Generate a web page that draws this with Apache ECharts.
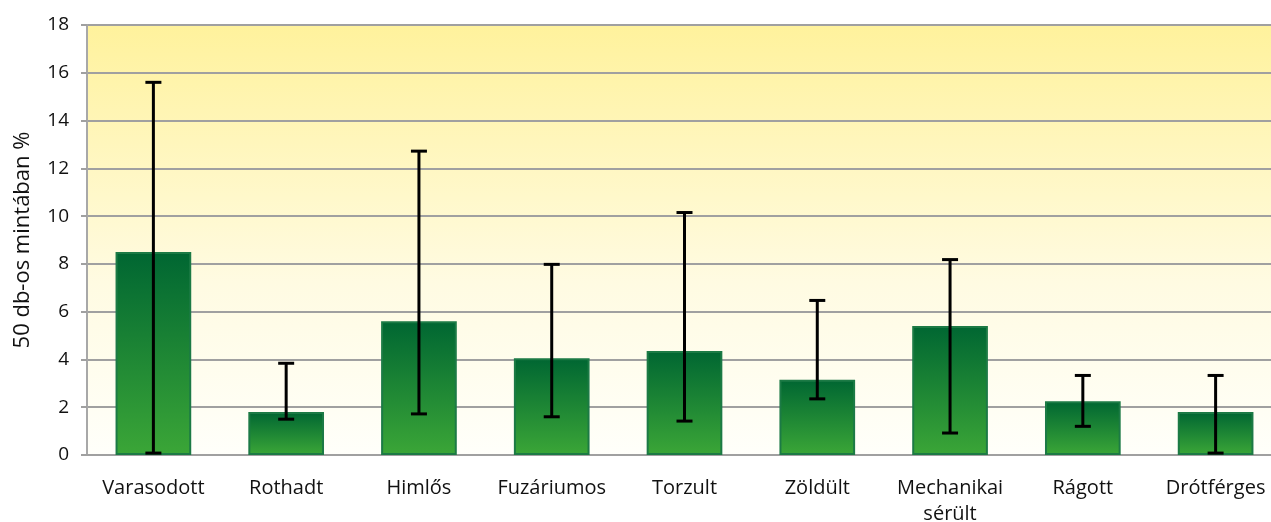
<!DOCTYPE html>
<html>
<head>
<meta charset="utf-8">
<script src="https://cdn.jsdelivr.net/npm/echarts@6/dist/echarts.min.js"></script>
<style>
  html, body { margin: 0; padding: 0; background: #fff; }
  #chart { width: 1271px; height: 522px; }
</style>
</head>
<body>
<div id="chart"></div>
<script>
// kategóriák és értékek
var categories = ['Varasodott', 'Rothadt', 'Himlős', 'Fuzáriumos', 'Torzult', 'Zöldült', 'Mechanikai\nsérült', 'Rágott', 'Drótférges'];
var means = [8.5, 1.8, 5.6, 4.05, 4.35, 3.15, 5.4, 2.25, 1.8];
var errLow = [0.08, 1.5, 1.72, 1.6, 1.42, 2.35, 0.92, 1.2, 0.08];
var errHigh = [15.6, 3.84, 12.72, 7.98, 10.15, 6.47, 8.18, 3.33, 3.33];
var yTicks = { min: 0, max: 18, interval: 2 };

var chart = echarts.init(document.getElementById('chart'));
var font = '"Open Sans", Lato, sans-serif';

var errData = [];
for (var i = 0; i < categories.length; i++) {
  errData.push([i, errLow[i], errHigh[i]]);
}

chart.setOption({
  animation: false,
  grid: {
    left: 87,
    right: -11,
    top: 25,
    bottom: 67,
    outerBoundsMode: 'none',
    containLabel: false,
    show: true,
    borderWidth: 0,
    backgroundColor: new echarts.graphic.LinearGradient(0, 0, 0, 1, [
      { offset: 0, color: '#fff29c' },
      { offset: 0.6, color: '#fffbe2' },
      { offset: 1, color: '#fffffa' }
    ])
  },
  xAxis: {
    type: 'category',
    data: categories,
    axisLine: { lineStyle: { color: '#a0a0a0', width: 2 } },
    axisTick: { show: false },
    axisLabel: {
      color: '#111',
      fontFamily: font,
      fontSize: 20,
      margin: 20,
      lineHeight: 26,
      interval: 0
    }
  },
  yAxis: {
    type: 'value',
    min: yTicks.min,
    max: yTicks.max,
    interval: yTicks.interval,
    name: '50 db-os mintában %',
    nameLocation: 'middle',
    nameGap: 53,
    nameTextStyle: { color: '#111', fontFamily: font, fontSize: 22 },
    axisLine: { show: true, lineStyle: { color: '#a8a8a8', width: 2 } },
    axisTick: { show: true, length: 6, lineStyle: { color: '#a0a0a0', width: 2 } },
    splitLine: { lineStyle: { color: '#a0a0a0', width: 2 } },
    axisLabel: { color: '#111', fontFamily: font, fontSize: 19, margin: 18 }
  },
  series: [
    {
      type: 'bar',
      data: means,
      barWidth: '57%',
      itemStyle: {
        color: new echarts.graphic.LinearGradient(0, 0, 0, 1, [
          { offset: 0, color: '#006632' },
          { offset: 1, color: '#3ba637' }
        ]),
        borderColor: '#1c7a45',
        borderWidth: 2
      }
    },
    {
      type: 'custom',
      data: errData,
      z: 10,
      renderItem: function (params, api) {
        var x = api.value(0);
        var lo = api.coord([x, api.value(1)]);
        var hi = api.coord([x, api.value(2)]);
        var cap = 8;
        var style = { stroke: '#000', lineWidth: 3 };
        return {
          type: 'group',
          children: [
            { type: 'line', shape: { x1: lo[0], y1: lo[1], x2: hi[0], y2: hi[1] }, style: style },
            { type: 'line', shape: { x1: lo[0] - cap, y1: lo[1], x2: lo[0] + cap, y2: lo[1] }, style: style },
            { type: 'line', shape: { x1: hi[0] - cap, y1: hi[1], x2: hi[0] + cap, y2: hi[1] }, style: style }
          ]
        };
      }
    }
  ]
});
</script>
</body>
</html>
